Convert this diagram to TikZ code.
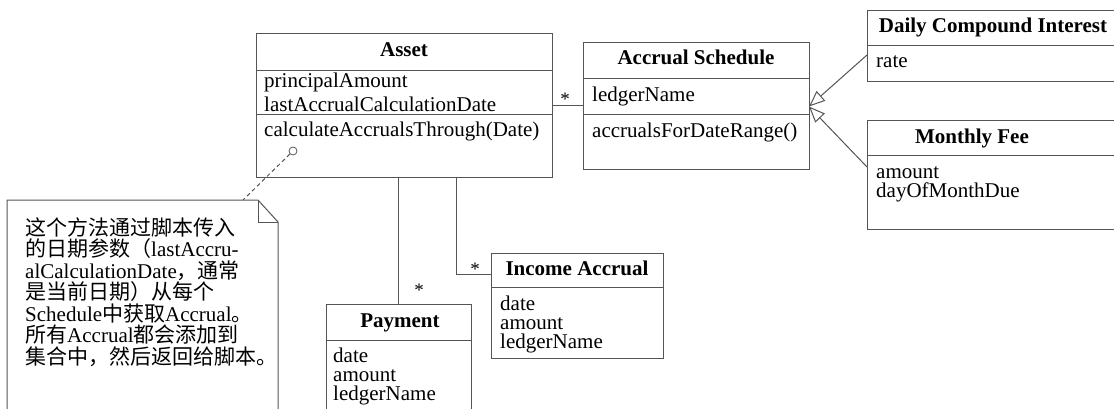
\documentclass[tikz,border=0pt]{standalone}
\usepackage{fontspec}
\setmainfont{Liberation Serif}
\newfontfamily\cjk{Noto Sans CJK SC}
\usetikzlibrary{arrows.meta,positioning,calc}
\definecolor{umlline}{RGB}{85,85,85}
\newcommand{\zh}[1]{{\cjk #1}}

\begin{document}
\begin{tikzpicture}[
    x=1pt, y=-1pt,
    classbox/.style={draw=umlline, line width=1pt, anchor=north west, inner sep=0pt, outer sep=0pt},
    classtitle/.style={font=\fontsize{21}{24}\selectfont\bfseries, anchor=base, inner sep=0pt},
    members/.style={font=\fontsize{21}{24}\selectfont, anchor=base west, align=left, inner sep=0pt},
    tight/.style={font=\fontsize{21}{19}\selectfont},
    divider/.style={draw=umlline, line width=1pt},
    assoc/.style={draw=umlline, line width=1pt},
    gen/.style={assoc, -{Triangle[open, length=16pt, width=13pt, fill=white]}},
    mult/.style={font=\fontsize{19}{19}\selectfont, inner sep=0pt},
    notelink/.style={assoc, dash pattern=on 4pt off 3pt},
]
\useasboundingbox (0,0) rectangle (1114,409);

% Asset (multi-line texts sit on the baseline of their last line)
\node[classbox, minimum width=296pt, minimum height=144pt] (asset) at (256,34) {};
\node[classtitle] (asset-name) at (404,57) {Asset};
\draw[divider] (256,71) -- (552,71);
\node[members] (asset-attr) at (264,112) {principalAmount\\lastAccrualCalculationDate};
\draw[divider] (256,115) -- (552,115);
\node[members] (asset-ops) at (264,137) {calculateAccrualsThrough(Date)};
\node[circle, draw=umlline, line width=0.8pt, minimum size=8pt, inner sep=0pt] (opdot) at (293,151) {};

% Accrual Schedule
\node[classbox, minimum width=226pt, minimum height=127pt] (sched) at (583,43) {};
\node[classtitle] (sched-name) at (696,65) {Accrual Schedule};
\draw[divider] (583,79) -- (809,79);
\node[members] (sched-attr) at (592,102) {ledgerName};
\draw[divider] (583,115) -- (809,115);
\node[members] (sched-ops) at (592,138) {accrualsForDateRange()};

% Daily Compound Interest
\node[classbox, minimum width=250pt, minimum height=71pt] (daily) at (867,11) {};
\node[classtitle] (daily-name) at (993,33) {Daily Compound Interest};
\draw[divider] (867,46) -- (1117,46);
\node[members] (daily-attr) at (876,68) {rate};

% Monthly Fee
\node[classbox, minimum width=250pt, minimum height=108pt] (monthly) at (867,121) {};
\node[classtitle] (monthly-name) at (972,143) {Monthly Fee};
\draw[divider] (867,156) -- (1117,156);
\node[members, tight] (monthly-attr) at (876,197) {amount\\dayOfMonthDue};

% Income Accrual
\node[classbox, minimum width=172pt, minimum height=105pt] (inc) at (491,253) {};
\node[classtitle] (inc-name) at (577,275) {Income Accrual};
\draw[divider] (491,287) -- (663,287);
\node[members, tight] (inc-attr) at (500,348) {date\\amount\\ledgerName};

% Payment
\node[classbox, minimum width=145pt, minimum height=120pt] (pay) at (326,304) {};
\node[classtitle] (pay-name) at (400,327) {Payment};
\draw[divider] (326,340) -- (471,340);
\node[members, tight] (pay-attr) at (333,400) {date\\amount\\ledgerName};

% Note
\draw[assoc] (7,425) -- (7,200) -- (258,200) -- (278,222) -- (278,425);
\draw[assoc] (258,200) -- (258,222) -- (278,222);
\node[members, font=\fontsize{21}{21.5}\selectfont] (note) at (25,364) {%
    \zh{这个方法通过脚本传入}\\
    \zh{的日期参数（}lastAccru-\\
    alCalculationDate\zh{，通常}\\
    \zh{是当前日期）从每个}\\
    Schedule\zh{中获取}Accrual\zh{。}\\
    \zh{所有}Accrual\zh{都会添加到}\\
    \zh{集合中，然后返回给脚本。}};
\coordinate (notetop) at (243,200);
\draw[notelink] (opdot) -- (notetop);

% Associations
\draw[assoc] (asset.east) -- (sched.west |- asset.east);
\node[mult] (m-sched) at (565,99) {*};
\draw[assoc] (asset.south -| pay.north) -- (pay.north);
\node[mult] (m-pay) at (419,290) {*};
\draw[assoc] ($(asset.south)+(52,0)$) |- ($(inc.north west)+(0,21)$);
\node[mult] (m-inc) at (475,269) {*};

% Generalizations
\draw[gen] ($(daily.north west)+(0,44)$) -- (sched.east);
\draw[gen] ($(monthly.north west)+(0,46)$) -- (sched.east);

\end{tikzpicture}
\end{document}
